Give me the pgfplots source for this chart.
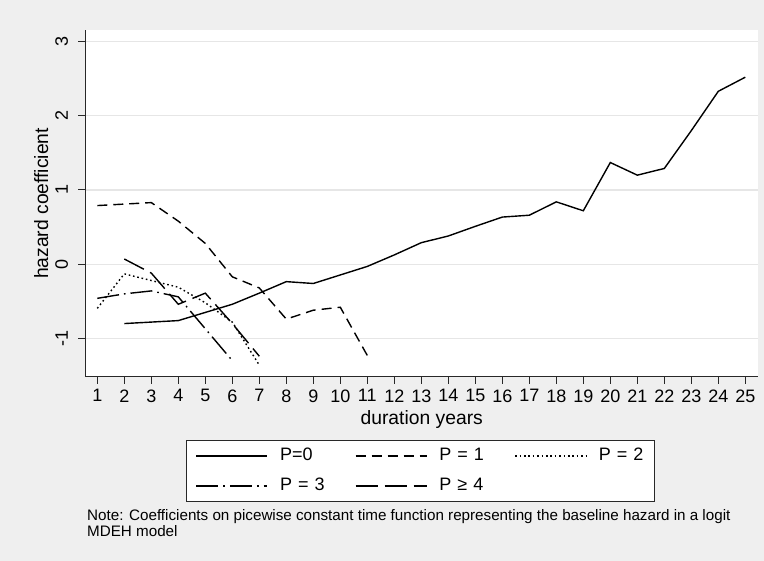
\documentclass[border=0pt]{standalone}
\usepackage{fontspec}
\setmainfont{Liberation Sans}
\usepackage{pgfplots}
\pgfplotsset{compat=1.18}
\definecolor{bg}{RGB}{239,239,239}
\definecolor{gridc}{RGB}{230,230,230}
\definecolor{axc}{RGB}{40,40,40}
\begin{document}
\begin{tikzpicture}[x=1pt,y=1pt]
\fill[bg] (0,0) rectangle (764,561);
\begin{axis}[
  at={(85.5pt,184pt)}, anchor=south west,
  scale only axis, width=672.5pt, height=347pt,
  xmin=0.563, xmax=25.47, ymin=-1.52, ymax=3.156,
  axis x line*=bottom, axis y line*=left,
  axis line style={axc, line width=1pt},
  axis background/.style={fill=white},
  xtick={1,...,25}, ytick={-1,0,1,2,3},
  tick align=outside, major tick length=7pt,
  tick style={axc, line width=1pt},
  ymajorgrids, grid style={gridc, line width=1.2pt},
  /pgf/number format/assume math mode=true,
  tick label style={font=\fontsize{18}{20}\selectfont},
  xticklabel shift=2pt,
  yticklabel style={rotate=90, anchor=south},
  yticklabel shift=7pt,
  xlabel={duration years}, ylabel={hazard coefficient},
  label style={font=\fontsize{19.3}{21}\selectfont},
  xlabel style={yshift=-1pt},
  ylabel style={yshift=0pt},
  legend columns=3,
  legend image code/.code={\draw[#1] (0pt,0pt) -- (71pt,0pt);},
  legend style={at={(0.4985,-0.271)}, anchor=center, draw=axc, fill=white,
    line width=0.8pt, inner xsep=9pt, inner ysep=7pt,
    font=\fontsize{18}{20}\selectfont,
    nodes={inner sep=0pt, text width=47pt, align=left, text height=13pt, text depth=4pt},
    /tikz/every odd column/.append style={column sep=12pt},
    /tikz/every even column/.append style={column sep=28pt},
    row sep=13pt},
  every axis plot/.append style={black, line width=1.4pt},
]
\addplot[solid] coordinates {
(2,-0.80) (3,-0.78) (4,-0.76) (5,-0.65) (6,-0.54) (7,-0.39) (8,-0.235) (9,-0.26)
(10,-0.145) (11,-0.03) (12,0.125) (13,0.29) (14,0.38) (15,0.51) (16,0.635) (17,0.66)
(18,0.84) (19,0.72) (20,1.37) (21,1.20) (22,1.29) (23,1.80) (24,2.33) (25,2.52)};
\addlegendentry{P=0}
\addplot[dash pattern=on 10pt off 6pt] coordinates {
(1,0.79) (2,0.81) (3,0.83) (4,0.58) (5,0.28) (6,-0.17) (7,-0.32) (8,-0.74)
(9,-0.62) (10,-0.58) (11,-1.23)};
\addlegendentry{P = 1}
\addplot[dash pattern=on 1.6pt off 2.8pt] coordinates {
(1,-0.595) (2,-0.13) (3,-0.22) (4,-0.31) (5,-0.52) (6,-0.78) (7,-1.36)};
\addlegendentry{P = 2}
\addplot[dash pattern=on 22pt off 5pt on 1.6pt off 5pt] coordinates {
(1,-0.46) (2,-0.40) (3,-0.36) (4,-0.44) (5,-0.87) (6,-1.30)};
\addlegendentry{P = 3}
\addplot[dash pattern=on 22pt off 7pt] coordinates {
(2,0.07) (3,-0.12) (4,-0.54) (5,-0.39) (6,-0.80) (7,-1.24)};
\addlegendentry{P ≥ 4}
\end{axis}
\node[anchor=north west, align=left, inner sep=0pt, font=\fontsize{15.2}{16.5}\selectfont]
  at (87,52) {Note: Coefficients on picewise constant time function representing the baseline hazard in a logit\\MDEH model};
\end{tikzpicture}
\end{document}
